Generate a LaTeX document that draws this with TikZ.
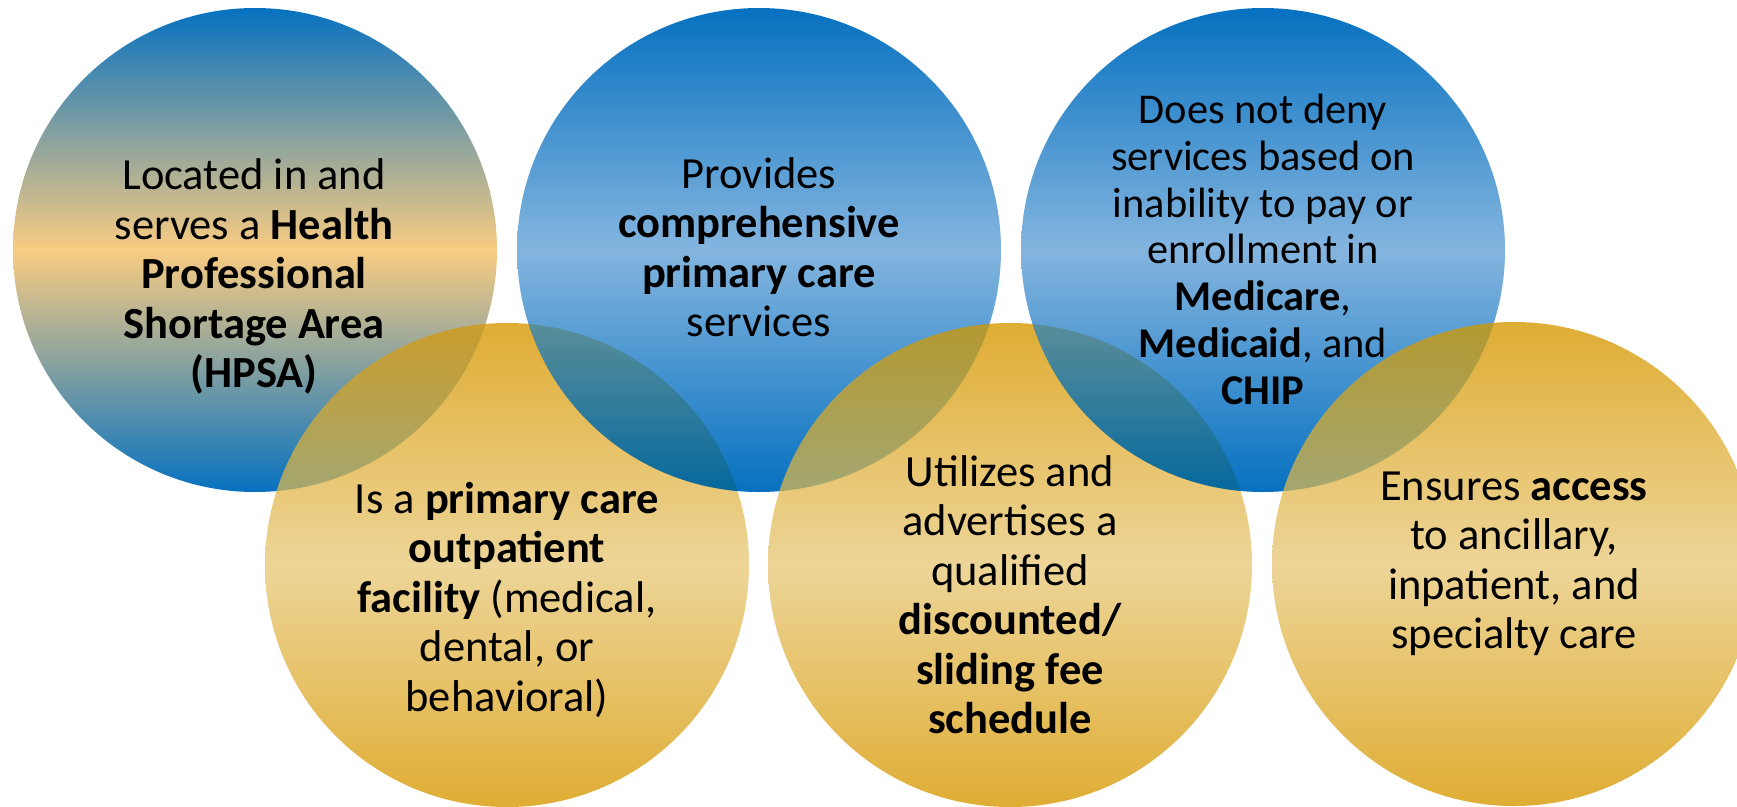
\documentclass[tikz,border=0pt]{standalone}
\usepackage{fontspec}
\setmainfont{Carlito}
\definecolor{bdark}{RGB}{6,113,192}
\definecolor{blight}{RGB}{132,181,223}
\definecolor{peach}{RGB}{249,204,130}
\definecolor{gdark}{RGB}{223,173,52}
\definecolor{glight}{RGB}{237,213,152}
\tikzset{
  bub/.style={circle, minimum size=484pt, inner sep=0pt, outer sep=0pt},
  blueshade/.style={top color=bdark, bottom color=bdark, middle color=blight},
  goldshade/.style={top color=gdark, bottom color=gdark, middle color=glight},
  peachshade/.style={top color=bdark, bottom color=bdark, middle color=peach},
  lbl/.style={align=center, inner sep=0pt, anchor=base, text=black,
    font=\fontsize{44.5}{49.5}\selectfont},
  lblsm/.style={lbl, font=\fontsize{42.4}{46.7}\selectfont}
}
\begin{document}
\begin{tikzpicture}[x=1pt,y=-1pt]
\clip (0,0) rectangle (1737,806);
% base layer, opaque, in stacking order
\node[bub, peachshade] (c1) at (255,250) {};
\node[bub, goldshade]  (c4) at (507,565) {};
\node[bub, blueshade]  (c2) at (759,250) {};
\node[bub, goldshade]  (c5) at (1010,565) {};
\node[bub, blueshade]  (c3) at (1263,250) {};
\node[bub, goldshade]  (c6) at (1514,564) {};
% overlaps: the lower circle tints the upper one
\begin{scope}
  \clip (c4.center) circle[radius=242];
  \shade[peachshade, opacity=0.3, blend mode=multiply] (c1.center) circle[radius=242];
\end{scope}
\begin{scope}
  \clip (c2.center) circle[radius=242];
  \shade[goldshade, opacity=0.35, blend mode=multiply] (c4.center) circle[radius=242];
\end{scope}
\begin{scope}
  \clip (c5.center) circle[radius=242];
  \shade[blueshade, opacity=0.3, blend mode=multiply] (c2.center) circle[radius=242];
\end{scope}
\begin{scope}
  \clip (c3.center) circle[radius=242];
  \shade[goldshade, opacity=0.35, blend mode=multiply] (c5.center) circle[radius=242];
\end{scope}
\begin{scope}
  \clip (c6.center) circle[radius=242];
  \shade[blueshade, opacity=0.3, blend mode=multiply] (c3.center) circle[radius=242];
\end{scope}
% texts (anchor = baseline of the last line)
\node[lbl] (t1) at (254,387.5) {Located in and\\serves a \textbf{Health}\\\textbf{Professional}\\\textbf{Shortage Area}\\\textbf{(HPSA)}};
\node[lbl] (t2) at (759,336.5) {Provides\\\textbf{comprehensive}\\\textbf{primary care}\\services};
\node[lblsm] (t3) at (1263,404) {Does not deny\\services based on\\inability to pay or\\enrollment in\\\textbf{Medicare},\\\textbf{Medicaid}, and\\\textbf{CHIP}};
\node[lbl] (t4) at (507,711) {Is a \textbf{primary care}\\\textbf{outpatient}\\\textbf{facility} (medical,\\dental, or\\behavioral)};
\node[lbl] (t5) at (1010,733.5) {Utilizes and\\advertises a\\qualified\\\textbf{discounted/}\\\textbf{sliding fee}\\\textbf{schedule}};
\node[lbl] (t6) at (1514,648.5) {Ensures \textbf{access}\\to ancillary,\\inpatient, and\\specialty care};
\end{tikzpicture}
\end{document}
